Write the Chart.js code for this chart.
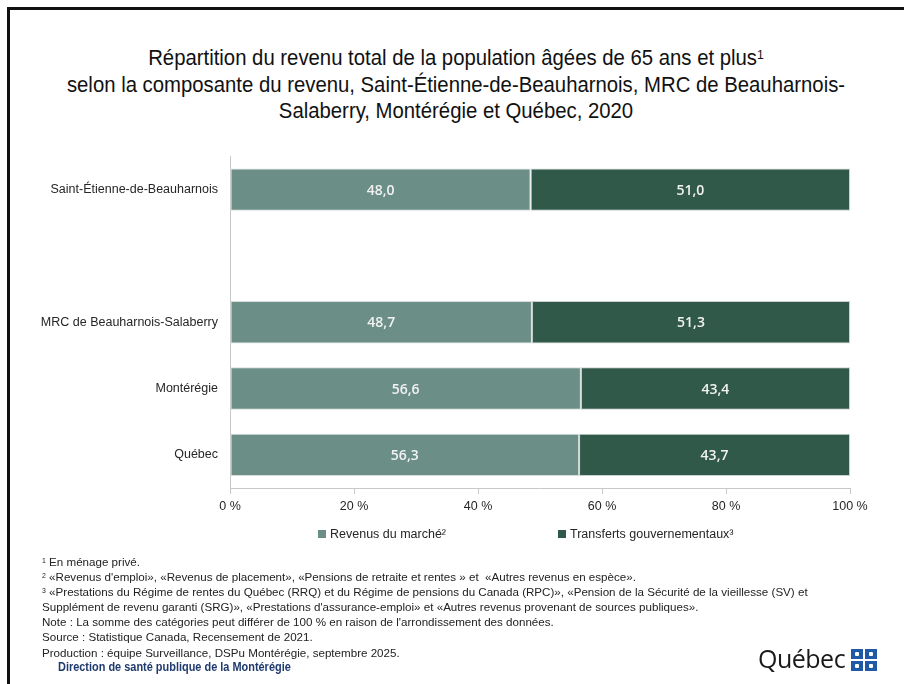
<!DOCTYPE html>
<html lang="fr">
<head>
<meta charset="utf-8">
<script src="https://cdn.jsdelivr.net/npm/chart.js@4.4.1/dist/chart.umd.min.js"></script>
<style>
  body { margin: 0; background: #fff; }
  #page { position: relative; width: 904px; height: 684px; overflow: hidden; font-family: "Liberation Sans", sans-serif; }
  #frame { position: absolute; left: 7px; top: 7px; width: 920px; height: 700px; border-top: 3px solid #111; border-left: 3px solid #111; }
  #title { position: absolute; left: 0; top: 45px; width: 912px; text-align: center; font-size: 21.5px; line-height: 26.5px; color: #111; transform: scaleX(0.945); transform-origin: 456px 0; }
  #title sup, #notes sup { font-size: 0.6em; vertical-align: 0.5em; line-height: 0; }
  #chartBox { position: absolute; left: 0; top: 145px; width: 904px; height: 410px; }
  .leg { position: absolute; top: 527px; font-size: 12.5px; color: #262626; white-space: nowrap; }
  .leg i { display: inline-block; width: 8px; height: 8px; margin-right: 4px; vertical-align: 0px; }
  #notes { position: absolute; left: 42px; top: 554px; font-size: 11.6px; line-height: 15.1px; color: #222; white-space: nowrap; }
  #dir { position: absolute; left: 58px; top: 660px; font-size: 12.5px; color: #1F3A6E; font-weight: bold; white-space: nowrap; transform: scaleX(0.875); transform-origin: 0 0; }
  #logo { position: absolute; left: 758px; top: 641px; font-family: "Open Sans", sans-serif; font-size: 25px; color: #1a1a1a; letter-spacing: -0.5px; }
  #flag { position: absolute; left: 851px; top: 649px; width: 27px; height: 23px; }
  #flag span { position: absolute; width: 12px; height: 10px; background: #1F5AA6; }
  #flag span::after { content: ""; position: absolute; left: 4px; top: 3px; width: 4px; height: 4px; background: #fff; border-radius: 1px; }
</style>
</head>
<body>
<div id="page">
  <div id="frame"></div>
  <div id="title">Répartition du revenu total de la population âgées de 65 ans et plus<sup>1</sup><br>selon la composante du revenu, Saint-Étienne-de-Beauharnois, MRC de Beauharnois-<br>Salaberry, Montérégie et Québec, 2020</div>
  <div id="chartBox"><canvas id="revenuChart" width="904" height="410"></canvas></div>
  <div class="leg" style="left:318px"><i style="background:#6B8E87"></i>Revenus du marché²</div>
  <div class="leg" style="left:558px"><i style="background:#31594A"></i>Transferts gouvernementaux³</div>
  <div id="notes">
    <sup>1</sup> En ménage privé.<br>
    <sup>2</sup> «Revenus d'emploi», «Revenus de placement», «Pensions de retraite et rentes » et &nbsp;«Autres revenus en espèce».<br>
    <sup>3</sup> «Prestations du Régime de rentes du Québec (RRQ) et du Régime de pensions du Canada (RPC)», «Pension de la Sécurité de la vieillesse (SV) et<br>
    Supplément de revenu garanti (SRG)», «Prestations d'assurance-emploi» et «Autres revenus provenant de sources publiques».<br>
    Note : La somme des catégories peut différer de 100 % en raison de l'arrondissement des données.<br>
    Source : Statistique Canada, Recensement de 2021.<br>
    Production : équipe Surveillance, DSPu Montérégie, septembre 2025.
  </div>
  <div id="dir">Direction de santé publique de la Montérégie</div>
  <div id="logo">Québec</div>
  <div id="flag"><span style="left:0;top:0"></span><span style="left:14px;top:0"></span><span style="left:0;top:12px"></span><span style="left:14px;top:12px"></span></div>
</div>
<script>
// territories (the empty label leaves the gap under the first bar)
const labels = ['Saint-Étienne-de-Beauharnois', '', 'MRC de Beauharnois-Salaberry', 'Montérégie', 'Québec'];
const marche = [48.0, null, 48.7, 56.6, 56.3];
const transferts = [51.0, null, 51.3, 43.4, 43.7];
const xTicks = [0, 20, 40, 60, 80, 100];

// 100 % stacked: each bar is scaled to its own total, labels keep the raw value
const share = (arr, i) => {
  const tot = marche[i] + transferts[i];
  return arr[i] == null ? null : arr[i] / tot * 100;
};

const valueLabels = {
  id: 'valueLabels',
  afterDatasetsDraw(chart) {
    const ctx = chart.ctx;
    ctx.save();
    ctx.font = '600 14px "Open Sans", sans-serif';
    ctx.fillStyle = '#F2F2F2';
    ctx.textAlign = 'center';
    ctx.textBaseline = 'middle';
    chart.data.datasets.forEach((ds, i) => {
      chart.getDatasetMeta(i).data.forEach((bar, j) => {
        const v = ds.raw[j];
        if (v == null) return;
        const p = bar.getProps(['x', 'y', 'base'], true);
        ctx.fillText(v.toFixed(1).replace('.', ','), (p.x + p.base) / 2, p.y + 1);
      });
    });
    ctx.restore();
  }
};

new Chart('revenuChart', {
  type: 'bar',
  data: {
    labels: labels,
    datasets: [
      { label: 'Revenus du marché²', raw: marche, data: marche.map((v, i) => share(marche, i)), backgroundColor: '#6B8E87', borderColor: '#D5DCDA', borderWidth: 1, borderSkipped: false },
      { label: 'Transferts gouvernementaux³', raw: transferts, data: transferts.map((v, i) => share(transferts, i)), backgroundColor: '#31594A', borderColor: '#C9D2CE', borderWidth: 1, borderSkipped: false }
    ]
  },
  options: {
    indexAxis: 'y',
    responsive: false,
    animation: false,
    categoryPercentage: 1,
    barPercentage: 0.64,
    layout: { padding: { top: 4, right: 54, left: 0, bottom: 36 } },
    plugins: {
      legend: { display: false },
      tooltip: { enabled: false }
    },
    scales: {
      y: {
        stacked: true,
        grid: { display: false },
        border: { color: '#C8C8C8' },
        ticks: { color: '#262626', font: { family: 'Liberation Sans', size: 12.5 }, padding: 4 },
        afterFit(scale) { scale.width = 230; }
      },
      x: {
        stacked: true,
        min: 0,
        max: 100,
        afterBuildTicks(scale) { scale.ticks = xTicks.map(v => ({ value: v })); },
        grid: { drawOnChartArea: false, drawTicks: true, tickLength: 6, color: '#C8C8C8' },
        border: { color: '#C8C8C8' },
        ticks: { color: '#262626', font: { family: 'Liberation Sans', size: 12.5 }, padding: 5, maxRotation: 0, callback: v => v + ' %' }
      }
    }
  },
  plugins: [valueLabels]
});
</script>
</body>
</html>
